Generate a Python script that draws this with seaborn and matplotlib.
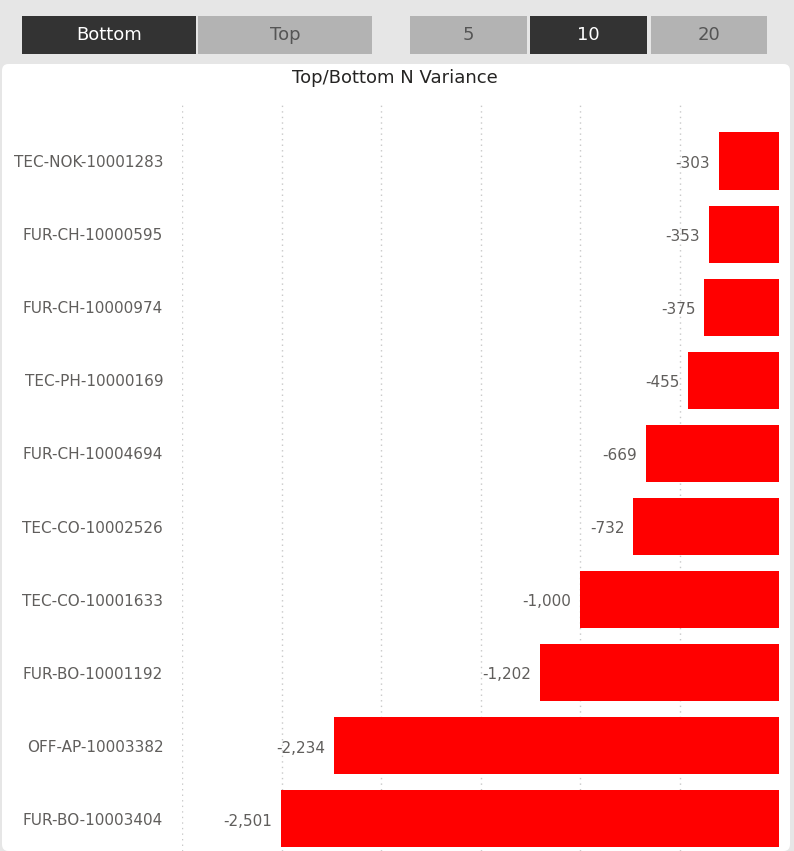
import matplotlib
matplotlib.use("Agg")
import matplotlib.pyplot as plt
import seaborn as sns
import pandas as pd
from matplotlib.patches import FancyBboxPatch, Rectangle

products = ["TEC-NOK-10001283", "FUR-CH-10000595", "FUR-CH-10000974", "TEC-PH-10000169",
            "FUR-CH-10004694", "TEC-CO-10002526", "TEC-CO-10001633", "FUR-BO-10001192",
            "OFF-AP-10003382", "FUR-BO-10003404"]
variance = [-303, -353, -375, -455, -669, -732, -1000, -1202, -2234, -2501]
buttons1 = ["Bottom", "Top"]
buttons2 = ["5", "10", "20"]

df = pd.DataFrame({"product": products, "variance": variance})

W, H = 794, 851
fig = plt.figure(figsize=(W/100, H/100), dpi=100)
fig.patch.set_facecolor("#e6e6e6")

# white panel
fig.patches.append(FancyBboxPatch((2/W, 0), 788/W, (H-64)/H, boxstyle="round,pad=0,rounding_size=0.008",
                                  transform=fig.transFigure, facecolor="white", edgecolor="none", zorder=-10))

def button(x0, x1, label, active):
    y0, y1 = H-54, H-16
    fig.patches.append(Rectangle((x0/W, y0/H), (x1-x0)/W, (y1-y0)/H, transform=fig.transFigure,
                                 facecolor="#333333" if active else "#b3b3b3", edgecolor="none", zorder=-5))
    fig.text((x0+x1)/2/W, (y0+y1)/2/H, label, ha="center", va="center", fontsize=13,
             color="white" if active else "#555555")

button(22, 196, buttons1[0], True)
button(198, 372, buttons1[1], False)
button(410, 527, buttons2[0], False)
button(530, 647, buttons2[1], True)
button(651, 767, buttons2[2], False)

fig.text(395/W, 1-78/H, "Top/Bottom N Variance", ha="center", va="center", fontsize=13, color="#252423")

ax = fig.add_axes([182/W, 0, (779-182)/W, (851-105)/H])
ax.set_zorder(5)
ax.set_facecolor("none")
sns.barplot(data=df, x="variance", y="product", orient="h", color="#ff0000",
            saturation=1, width=0.78, ax=ax, zorder=3)
ax.set_xlim(-3000, 0)
ax.set_ylim(9.438, -0.766)
ax.set_xticks(range(-3000, 0, 500))
ax.xaxis.grid(True, linestyle=(0, (1, 3)), color="#c8c8c8", linewidth=1)
ax.set_axisbelow(True)
ax.tick_params(axis="x", bottom=False, labelbottom=False)
ax.tick_params(axis="y", left=False, labelsize=11, labelcolor="#605e5c", pad=10)
ax.set_xlabel("")
ax.set_ylabel("")
for s in ax.spines.values():
    s.set_visible(False)
for i, v in enumerate(variance):
    ax.text(v - 45, i + 0.03, f"{v:,}", ha="right", va="center", fontsize=11, color="#605e5c")

fig.savefig("out.png", dpi=100)
